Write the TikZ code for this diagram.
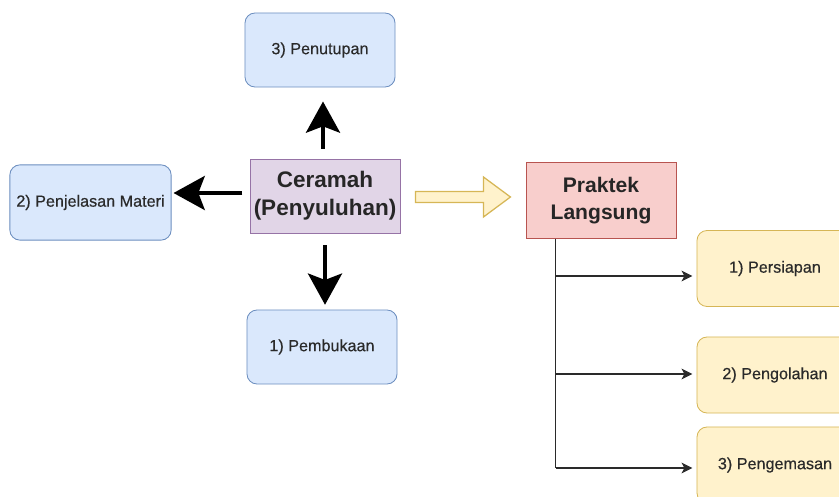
\documentclass[tikz,border=0pt]{standalone}
\usepackage{fontspec}
\setmainfont{Liberation Sans}
\usetikzlibrary{calc}
\usetikzlibrary{arrows.meta}

\definecolor{blueFill}{HTML}{DAE8FC}
\definecolor{blueLine}{HTML}{6C8EBF}
\definecolor{purpleFill}{HTML}{E1D5E7}
\definecolor{purpleLine}{HTML}{9673A6}
\definecolor{redFill}{HTML}{F8CECC}
\definecolor{redLine}{HTML}{B85450}
\definecolor{yellowFill}{HTML}{FFF2CC}
\definecolor{yellowLine}{HTML}{D6B656}
\definecolor{textGray}{HTML}{2A2A2A}

\newcommand{\boxfont}{\fontsize{11.5pt}{14pt}\selectfont\addfontfeatures{FakeBold=0.4}}

\tikzset{
    stepbox/.style={draw=blueLine, fill=blueFill, rounded corners=0.25cm, line width=0.6pt,
        minimum width=3.75cm, minimum height=1.85cm, inner sep=0pt,
        text=textGray, font=\boxfont},
    mainbox/.style={draw, line width=0.6pt, minimum width=3.75cm, minimum height=1.85cm,
        inner sep=0pt, align=center, text=black!85},
    workbox/.style={draw=yellowLine, fill=yellowFill, rounded corners=0.25cm, line width=0.6pt,
        minimum width=3.9cm, minimum height=1.9cm, inner sep=0pt,
        text=textGray, font=\boxfont},
    bigarrow/.style={line width=0.1cm, -{Stealth[length=0.78cm,width=0.85cm,inset=0.16cm]}},
    branch/.style={draw=textGray, line width=0.8pt, -{Stealth[length=0.27cm,width=0.27cm,inset=0.07cm]}},
    blockarr/.style={draw=yellowLine, fill=yellowFill, line width=0.9pt, line join=miter}
}

\begin{document}
\begin{tikzpicture}[x=0.025cm,y=-0.025cm]
    % Fix the frame and cut off what hangs out
    \useasboundingbox (0,0) rectangle (839,497);
    \clip (0,0) rectangle (839,497);

    % Draw the lecture part
    \node[mainbox, draw=purpleLine, fill=purpleFill,
        font=\bfseries\fontsize{16pt}{20pt}\selectfont] (cer) at (325,196) {Ceramah\\(Penyuluhan)};
    \node[stepbox] (pen) at (320,50) {3) Penutupan};
    \node[stepbox, minimum width=4.03cm, minimum height=1.88cm] (pjm) at (90.5,202.5) {2) Penjelasan Materi};
    \node[stepbox] (pem) at (322,347) {1) Pembukaan};

    \draw[bigarrow, shorten <=7, shorten >=10] ([xshift=-0.05cm]cer.north) -- ([xshift=-0.05cm]cer.north |- pen.south);
    \draw[bigarrow, shorten <=0.18cm, shorten >=0.05cm] (cer.west |- 0,193) -- (pjm.east |- 0,193);
    \draw[bigarrow, shorten <=0.3cm, shorten >=0.12cm] (cer.south) -- (cer.south |- pem.north);

    % Draw the practice part
    \node[mainbox, draw=redLine, fill=redFill, minimum height=1.88cm,
        font=\bfseries\fontsize{15pt}{19pt}\selectfont] (prak) at (601,200.5) {Praktek\\Langsung};
    \node[workbox] (per) at (775,268.5) {1) Persiapan};
    \node[workbox] (pgl) at (775,375) {2) Pengolahan};
    \node[workbox] (pgm) at (775,465) {3) Pengemasan};

    % Draw hollow arrow from lecture to practice
    \path (cer.east) ++(15,1) coordinate (ba);
    \draw[blockarr] (ba) ++(0,-5.5) -- ++(68,0) -- ++(0,-14.5) -- ++(27,20)
        -- ++(-27,20) -- ++(0,-14.5) -- ++(-68,0) -- cycle;

    % Draw the branches
    \coordinate (trunk) at ($(prak.south west)+(30,0)$);
    \draw[textGray, line width=0.8pt] (trunk) -- ($(trunk |- pgm.west)+(0,3)$);
    \draw[branch, shorten >=3] ($(trunk |- per.west)+(0,7.5)$) -- ($(per.west)+(0,7.5)$);
    \draw[branch, shorten >=3] ($(trunk |- pgl.west)+(0,-1)$) -- ($(pgl.west)+(0,-1)$);
    \draw[branch, shorten >=3] ($(trunk |- pgm.west)+(0,3)$) -- ($(pgm.west)+(0,3)$);
\end{tikzpicture}
\end{document}
